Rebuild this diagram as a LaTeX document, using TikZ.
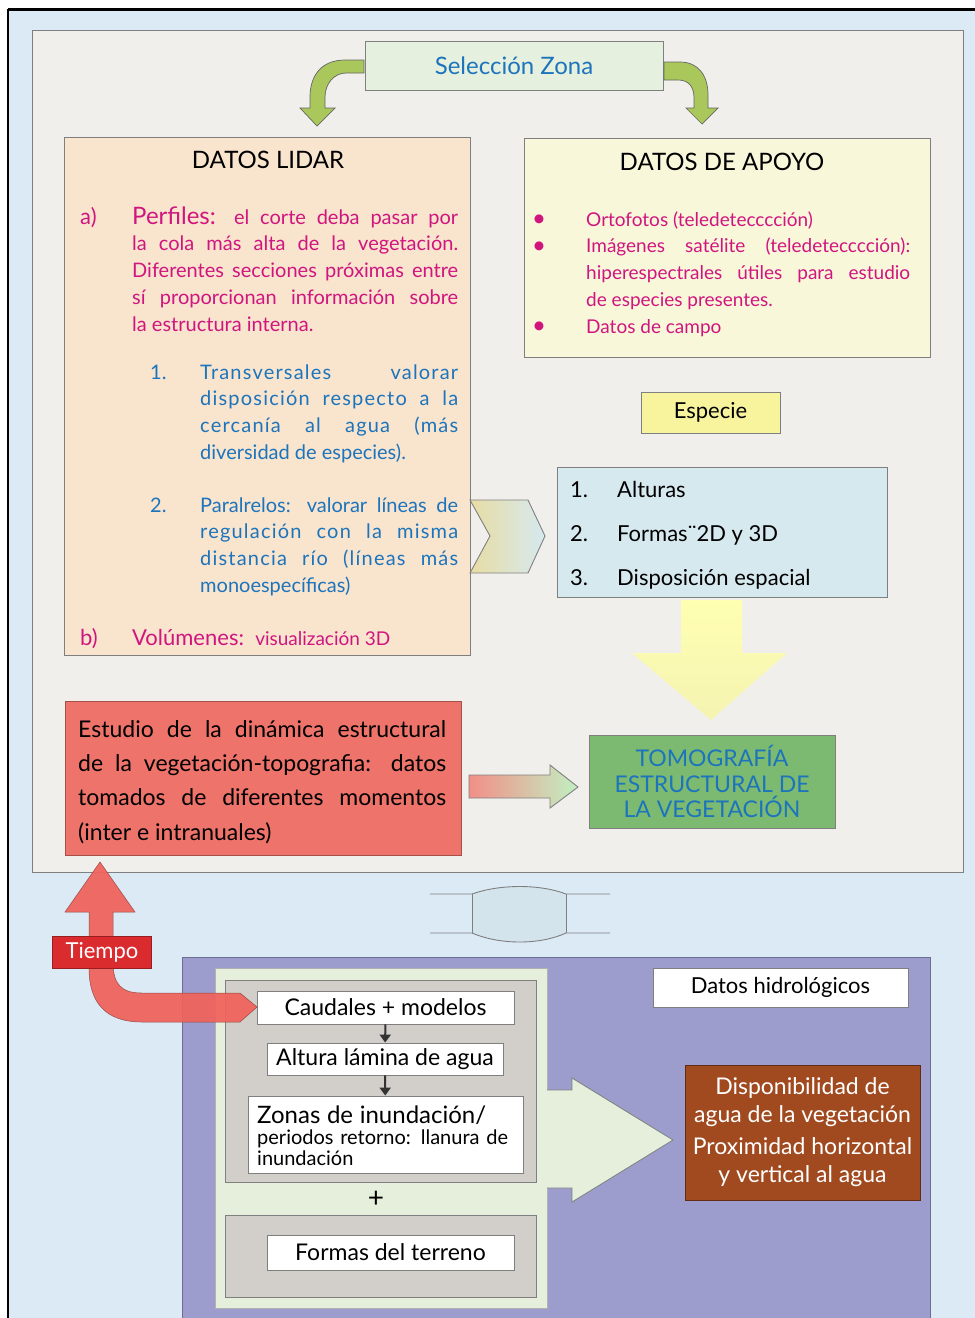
\documentclass[tikz,border=0pt]{standalone}
\usepackage{fontspec}
\setmainfont{Lato}
\usepackage{xcolor}
\usepackage{tikz}
\usetikzlibrary{positioning,arrows.meta}
\definecolor{fondo}{HTML}{DCEAF6}
\definecolor{panel}{HTML}{F1EFEC}
\definecolor{borde}{HTML}{7F7F7F}
\definecolor{selverde}{HTML}{E6F0DE}
\definecolor{flechav}{HTML}{A9C75A}
\definecolor{azul}{HTML}{1C74BC}
\definecolor{magenta}{HTML}{D0157F}
\definecolor{melocoton}{HTML}{F9E4CD}
\definecolor{amarillo}{HTML}{F9F7DA}
\definecolor{especiec}{HTML}{F8F49E}
\definecolor{celeste}{HTML}{D6E9EF}
\definecolor{enlace}{HTML}{D3E4EC}
\definecolor{caqui}{HTML}{E8DCA4}
\definecolor{rojo}{HTML}{EE736A}
\definecolor{tomo}{HTML}{7DBA71}
\definecolor{morado}{HTML}{9C9DCC}
\definecolor{verdep}{HTML}{E5EFDB}
\definecolor{gris}{HTML}{D2CFCB}
\definecolor{marron}{HTML}{A14A1F}
\definecolor{rojot}{HTML}{DA2B2F}
\newcommand{\sz}[2]{\fontsize{#1}{#2}\selectfont}
\newcommand{\jline}[2]{{\spaceskip=0pt\xspaceskip=0pt\relax\makebox[#1][s]{#2}}}
\newcommand{\spaced}[1]{{\addfontfeature{LetterSpace=6}#1}}

\begin{document}
\begin{tikzpicture}[x=1pt, y=-1pt,
  caja/.style={draw=borde, line width=0.9pt, inner sep=0pt},
  txt/.style={inner sep=0pt, anchor=base west}]
\useasboundingbox (0,0) rectangle (975,1318);
% background and frame
\fill[fondo] (8,9) rectangle (975,1318);
\draw[line width=3pt] (8,9) -- (975,9);
\draw[line width=2pt] (8,9) -- (8,1318);

% Top panel
\draw[borde, fill=panel, line width=0.9pt] (32,30) rectangle (963,872);
\node[caja, fill=selverde, minimum width=298pt, minimum height=49pt, text=azul, font=\sz{24}{24}] (sel) at (514,66) {Selección Zona};
\fill[flechav, draw=borde!80!black, line width=0.7pt] (364,60) -- (345,60) .. controls (322,60) and (310,75) .. (310,97) -- (310,108) -- (300,108) -- (317,126) -- (335,108) -- (325,108) -- (325,97) .. controls (325,84) and (334,73) .. (346,73) -- (364,73) -- cycle;
\fill[flechav, draw=borde!80!black, line width=0.7pt] (664,62) -- (680,62) .. controls (698,62) and (708,75) .. (708,95) -- (708,108) -- (718,108) -- (702,124) -- (686,108) -- (694,108) -- (694,98) .. controls (694,86) and (688,80) .. (678,80) -- (664,80) -- cycle;

% DATOS LIDAR
\node[caja, fill=melocoton, minimum width=406pt, minimum height=518pt] (lidar) at (267.5,396.5) {};
\node[txt, anchor=base] (tlidar) at (268,168) {\sz{24}{24}DATOS LIDAR};
\node[txt, text=magenta] (la) at (80,224) {\sz{22}{22}a)};
\node[txt, text=magenta, text width=326pt, align=justify, font=\sz{20}{26.75}] (perfiles) at (132,224)
  {\jline{326pt}{{\sz{24}{24}Perfiles:} el corte deba pasar por}\\
   \jline{326pt}{la cola más alta de la vegetación.}\\
   \jline{326pt}{Diferentes secciones próximas entre}\\
   \jline{326pt}{sí proporcionan información sobre}\\
   la estructura interna.};
\node[txt, text=azul, font=\sz{20}{20}] (n1) at (150,379) {1.};
\node[txt, text=azul, text width=258pt, align=justify, font=\sz{20}{26.7}] (transv) at (200,379)
  {\jline{258pt}{\spaced{Transversales valorar}}\\
   \jline{258pt}{\spaced{disposición respecto a la}}\\
   \jline{258pt}{\spaced{cercanía al agua (más}}\\
   diversidad de especies).};
\node[txt, text=azul, font=\sz{20}{20}] (n2) at (150,512) {2.};
\node[txt, text=azul, text width=258pt, align=justify, font=\sz{20}{26.7}] (paral) at (200,512)
  {\jline{258pt}{Paralrelos: valorar líneas de}\\
   \jline{258pt}{\spaced{regulación con la misma}}\\
   \jline{258pt}{\spaced{distancia río (líneas más}}\\
   monoespecíficas)};
\node[txt, text=magenta] (lb) at (80,645) {\sz{22}{22}b)};
\node[txt, text=magenta] (volum) at (132,645) {\sz{22}{22}Volúmenes:\ \ \sz{19}{19}visualización 3D};

% DATOS DE APOYO
\node[caja, fill=amarillo, minimum width=406pt, minimum height=219pt] (apoyo) at (727,247.5) {};
\node[txt, anchor=base] (tapoyo) at (722,170) {\sz{24}{24}DATOS DE APOYO};
\node[txt, anchor=base, text=magenta] (b1) at (539,226) {\sz{24}{24}•};
\node[txt, anchor=base, text=magenta] (b2) at (539,253) {\sz{24}{24}•};
\node[txt, anchor=base, text=magenta] (b3) at (539,333) {\sz{24}{24}•};
\node[txt, text=magenta, text width=324pt, align=justify, font=\sz{19}{26.75}] (fuentes) at (586,226)
  {Ortofotos (teledetecccción)\\
   \jline{324pt}{Imágenes satélite (teledetecccción):}\\
   \jline{324pt}{hiperespectrales útiles para estudio}\\
   de especies presentes.\\
   Datos de campo};

% Especie and attributes
\node[caja, fill=especiec, minimum width=139pt, minimum height=41pt, font=\sz{22}{22}] (especie) at (710.5,412.5) {Especie};
\node[caja, fill=celeste, minimum width=330pt, minimum height=130pt] (lista) at (722,532) {};
\node[txt, font=\sz{22}{22}] (l1) at (570,497) {1.};
\node[txt, font=\sz{22}{22}] (l2) at (570,541) {2.};
\node[txt, font=\sz{22}{22}] (l3) at (570,585) {3.};
\node[txt, font=\sz{22}{22}] (alturas) at (617,497) {Alturas};
\node[txt, font=\sz{22}{22}] (formas) at (617,541) {Formas¨2D y 3D};
\node[txt, font=\sz{22}{22}] (dispos) at (617,585) {Disposición espacial};
\shade[left color=caqui, right color=celeste, draw=borde, line width=0.9pt]
  (470,500) -- (528,500) -- (545,536) -- (528,573) -- (470,573) -- (490,536) -- cycle;
\shade[top color=yellow!30!white, bottom color=yellow!25!panel]
  (681,600) -- (742,600) -- (742,653) -- (787,653) -- (711,720) -- (632,653) -- (681,653) -- cycle;

% Estudio and tomografia
\node[draw=rojo!70!black, fill=rojo, line width=0.9pt, inner sep=0pt, minimum width=396pt, minimum height=154pt] (estudio) at (263,778) {};
\node[txt, text width=368pt, align=justify, font=\sz{23}{34.4}] (testudio) at (78,737)
  {\jline{368pt}{Estudio de la dinámica estructural}\\
   \jline{368pt}{de la vegetación-topografia: datos}\\
   \jline{368pt}{tomados de diferentes momentos}\\
   (inter e intranuales)};
\node[caja, fill=tomo, minimum width=246pt, minimum height=93pt, text=azul, align=center, font=\sz{23}{25.5}] (tomo) at (712,781.5)
  {TOMOGRAFÍA\\ ESTRUCTURAL DE\\ LA VEGETACIÓN};
\shade[left color=rojo!80, right color=gray!40!green!30, draw=borde, line width=0.9pt]
  (469,775) -- (550,775) -- (550,765) -- (578,787) -- (550,808) -- (550,798) -- (469,798) -- cycle;

% link between panels
\fill[enlace] (472,894) .. controls (500,884) and (540,884) .. (566,894) -- (566,933) .. controls (540,945) and (500,945) .. (472,933) -- cycle;
\draw[borde, line width=0.9pt] (430,894) -- (472,894) .. controls (500,884) and (540,884) .. (566,894) -- (610,894);
\draw[borde, line width=0.9pt] (430,933) -- (472,933) .. controls (500,945) and (540,945) .. (566,933) -- (610,933);
\draw[borde, line width=0.9pt] (472,894) -- (472,933) (566,894) -- (566,933);

% Bottom panel
\draw[morado!70!black, fill=morado, line width=0.9pt] (182,957) rectangle (930,1330);
\fill[verdep] (215,968) rectangle (547,1308);
\draw[borde!60] (547,1090) -- (547,968) -- (215,968) -- (215,1308) -- (547,1308) -- (547,1188);
\fill[verdep] (546,1090) -- (572,1090) -- (572,1078) -- (673,1140) -- (572,1202) -- (572,1188) -- (546,1188) -- cycle;
\draw[borde, line width=0.8pt] (547,1090) -- (572,1090) -- (572,1078) -- (673,1140) -- (572,1202) -- (572,1188) -- (547,1188);
\draw[borde, fill=gris, line width=0.9pt] (225,980) rectangle (536,1182);
\draw[borde, fill=gris, line width=0.9pt] (225,1215) rectangle (536,1297);
\node[caja, fill=white, minimum width=257pt, minimum height=33pt, font=\sz{23}{23}] (caudales) at (385.5,1007.5) {Caudales + modelos};
\node[caja, fill=white, minimum width=236pt, minimum height=32pt, font=\sz{23}{23}] (altura) at (385,1059) {Altura lámina de agua};
\node[caja, fill=white, minimum width=275pt, minimum height=77pt] (zonas) at (385.5,1134.5) {};
\node[txt, text width=262pt, align=left, font=\sz{20}{21}] (tzonas) at (257,1123)
  {{\sz{24}{24}Zonas de inundación/}\\ periodos retorno: llanura de\\ inundación};
\node[font=\sz{28}{28}] (mas) at (376,1199) {+};
\node[caja, fill=white, minimum width=247pt, minimum height=35pt, font=\sz{23}{23}] (terreno) at (390.5,1252.5) {Formas del terreno};
\draw[-{Triangle[length=8pt,width=11pt]}, line width=2pt, black!80] (caudales) -- (altura);
\draw[-{Triangle[length=8pt,width=11pt]}, line width=2pt, black!80] (altura) -- (zonas);
\node[caja, fill=white, minimum width=255pt, minimum height=39pt, font=\sz{22}{22}] (hidro) at (780.5,987.5) {Datos hidrológicos};
\node[draw=marron!60!black, fill=marron, line width=0.9pt, inner sep=0pt, minimum width=235pt, minimum height=135pt, text=white, align=center, font=\sz{23}{28}] (dispo) at (802.5,1132.5)
  {Disponibilidad de\\ agua de la vegetación\\[4pt] Proximidad horizontal\\ y vertical al agua};

% Tiempo arrow
\fill[rojo!85!red, opacity=0.93, draw=rojo!60!black, line width=0.5pt] (100,862) -- (135,912) -- (113,912) -- (113,962) .. controls (113,985) and (122,993) .. (142,993) -- (240,993) -- (257,1007) -- (240,1022) -- (142,1022) .. controls (105,1022) and (89,1002) .. (89,968) -- (89,912) -- (65,912) -- cycle;
\node[draw=rojot!70!black, fill=rojot, inner sep=0pt, minimum width=99pt, minimum height=32pt, text=white, font=\sz{22}{22}] (tiempo) at (102,952.5) {Tiempo};
\end{tikzpicture}
\end{document}
